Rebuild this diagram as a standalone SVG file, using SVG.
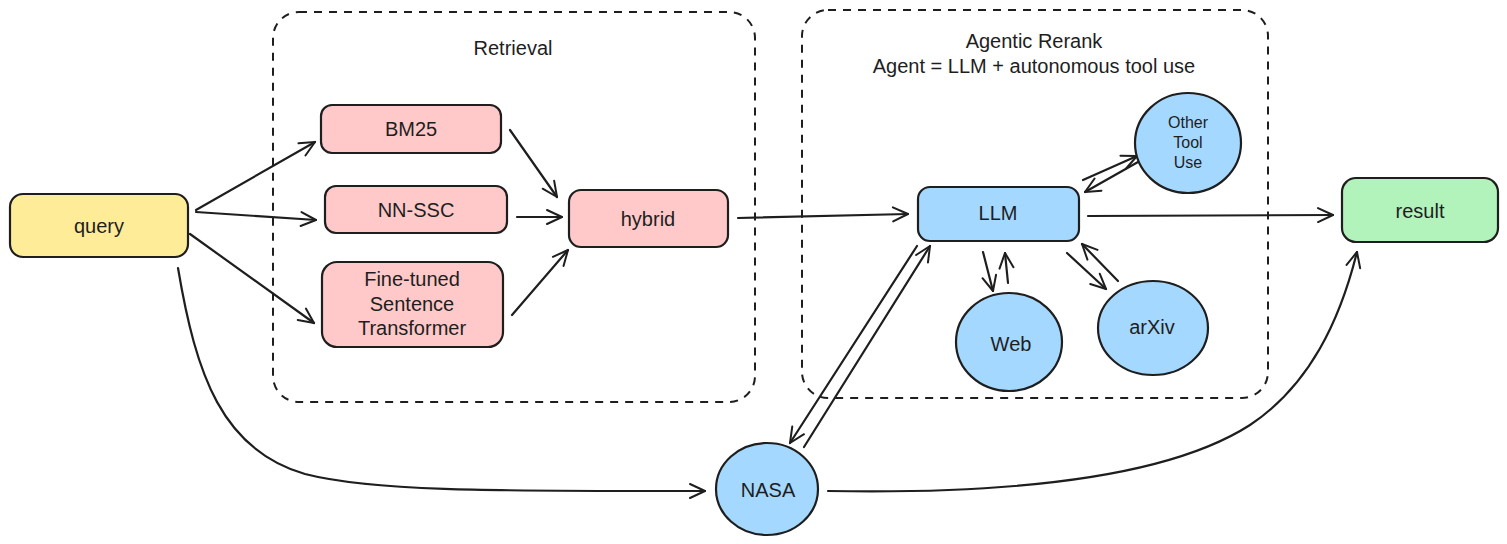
<svg xmlns="http://www.w3.org/2000/svg" width="1507" height="544" viewBox="0 0 1507 544">
  <style>
    text { font-family: "Liberation Sans", "DejaVu Sans", sans-serif; fill: #1e1e1e; font-size: 20px; text-anchor: middle; dominant-baseline: central; }
    .small { font-size: 16px; }
    .title { font-size: 20px; }
    .box { stroke: #1e1e1e; stroke-width: 2.2; }
    .group { fill: none; stroke: #1e1e1e; stroke-width: 2; stroke-dasharray: 8 7; }
    .yellow { fill: #ffec99; }
    .red { fill: #ffc9c9; }
    .blue { fill: #a5d8ff; }
    .green { fill: #b2f2bb; }
    .edge { fill: none; stroke: #1e1e1e; stroke-width: 2.2; stroke-linecap: round; marker-end: url(#head); }
  </style>
  <defs>
    <marker id="head" viewBox="-18 -10 20 20" refX="0" refY="0" markerWidth="20" markerHeight="20" markerUnits="userSpaceOnUse" orient="auto">
      <path d="M-15,-7 L0,0 L-15,7" fill="none" stroke="#1e1e1e" stroke-width="2" stroke-linecap="round" stroke-linejoin="round"/>
    </marker>
  </defs>

  <rect width="1507" height="544" fill="#ffffff"/>

  <!-- dashed grouping frames -->
  <g id="retrieval-group">
    <rect class="group" x="273" y="12" width="482" height="390" rx="26"/>
    <text class="title" x="513" y="48">Retrieval</text>
  </g>
  <g id="rerank-group">
    <rect class="group" x="802" y="10" width="466" height="388" rx="26"/>
    <text class="title" x="1034" y="41">Agentic Rerank</text>
    <text class="title" x="1034" y="66">Agent = LLM + autonomous tool use</text>
  </g>

  <!-- connectors -->
  <g id="connectors">
    <path class="edge" d="M196,210 L315,142"/>
    <path class="edge" d="M196,212 L316,220"/>
    <path class="edge" d="M190,234 L314,323"/>
    <path class="edge" d="M510,130 L557,197"/>
    <path class="edge" d="M517,217 L562,217"/>
    <path class="edge" d="M512,315 L568,250"/>
    <path class="edge" d="M738,218 L908,214"/>
    <path class="edge" d="M1088,216 L1333,215"/>
    <path class="edge" d="M1083,180 L1137,156"/>
    <path class="edge" d="M1138,162 L1085,192"/>
    <path class="edge" d="M983,252 L993,291"/>
    <path class="edge" d="M1008,283 L1005,253"/>
    <path class="edge" d="M1067,253 L1106,289"/>
    <path class="edge" d="M1118,281 L1082,244"/>
    <path class="edge" d="M917,246 L790,443"/>
    <path class="edge" d="M804,447 L930,246"/>
    <path class="edge" d="M178,268 C196,375 222,450 305,474 C375,492 500,491 705,491"/>
    <path class="edge" d="M828,491 C1050,495 1180,470 1250,425 C1310,385 1340,320 1357,252"/>
  </g>

  <!-- nodes -->
  <g id="query">
    <rect class="box yellow" x="10" y="194" width="178" height="63" rx="13"/>
    <text x="99" y="226">query</text>
  </g>
  <g id="bm25">
    <rect class="box red" x="321" y="105" width="180" height="48" rx="11"/>
    <text x="411" y="129">BM25</text>
  </g>
  <g id="nn-ssc">
    <rect class="box red" x="325" y="186" width="182" height="47" rx="11"/>
    <text x="416" y="210">NN-SSC</text>
  </g>
  <g id="fine-tuned">
    <rect class="box red" x="322" y="262" width="181" height="85" rx="15"/>
    <text x="412" y="279">Fine-tuned</text>
    <text x="412" y="304">Sentence</text>
    <text x="412" y="328">Transformer</text>
  </g>
  <g id="hybrid">
    <rect class="box red" x="569" y="190" width="159" height="57" rx="12"/>
    <text x="648" y="219">hybrid</text>
  </g>
  <g id="llm">
    <rect class="box blue" x="918" y="187" width="161" height="54" rx="12"/>
    <text x="998" y="213">LLM</text>
  </g>
  <g id="other-tool-use">
    <ellipse class="box blue" cx="1188" cy="143" rx="53" ry="50"/>
    <text class="small" x="1188" y="122">Other</text>
    <text class="small" x="1188" y="142">Tool</text>
    <text class="small" x="1188" y="162">Use</text>
  </g>
  <g id="web">
    <ellipse class="box blue" cx="1009" cy="342" rx="53" ry="49"/>
    <text x="1011" y="344">Web</text>
  </g>
  <g id="arxiv">
    <ellipse class="box blue" cx="1153" cy="328" rx="55" ry="47"/>
    <text x="1152" y="327">arXiv</text>
  </g>
  <g id="nasa">
    <ellipse class="box blue" cx="767" cy="489" rx="51" ry="46"/>
    <text x="768" y="490">NASA</text>
  </g>
  <g id="result">
    <rect class="box green" x="1342" y="178" width="156" height="64" rx="14"/>
    <text x="1420" y="211">result</text>
  </g>
</svg>
